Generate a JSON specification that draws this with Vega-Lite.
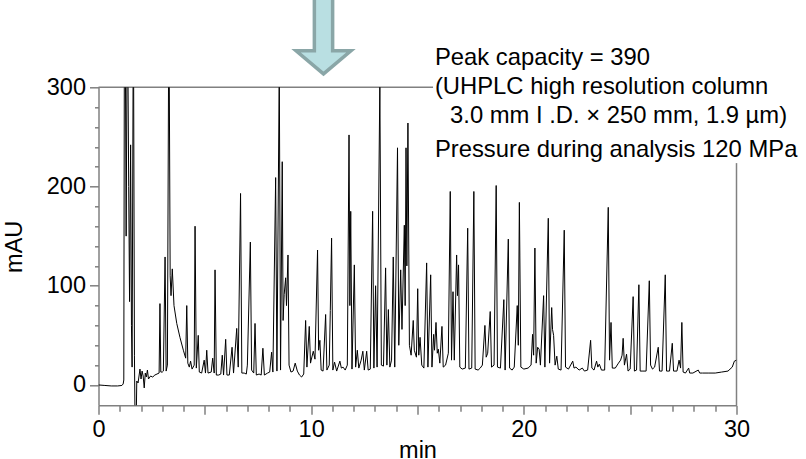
{
"$schema": "https://vega.github.io/schema/vega-lite/v6.json",
"width": 638, "height": 318,
"autosize": {"type": "none"},
"padding": {"left": 98.5, "top": 87.3, "right": 69.5, "bottom": 53.7},
"config": {"view": {"stroke": null}, "font": "Liberation Sans"},
"datasets": {
"trace": [
{"t":0,"v":0},{"t":0.3,"v":-0.5},{"t":0.6,"v":-1},{"t":0.9,"v":-1},{"t":1.1,"v":-0.5},{"t":1.16,"v":1},{"t":1.19,"v":5},{"t":1.22,"v":400},{"t":1.26,"v":350},{"t":1.3,"v":150},{"t":1.36,"v":400},{"t":1.42,"v":200},{"t":1.46,"v":84},{"t":1.51,"v":242},{"t":1.55,"v":60},{"t":1.58,"v":18},{"t":1.64,"v":400},{"t":1.69,"v":30},{"t":1.72,"v":-40},{"t":1.77,"v":-40},{"t":1.8,"v":4},{"t":1.86,"v":2},{"t":1.95,"v":16},{"t":2.0,"v":6},{"t":2.05,"v":14},{"t":2.1,"v":9},{"t":2.15,"v":-3},{"t":2.2,"v":12},{"t":2.25,"v":8},{"t":2.3,"v":15},{"t":2.35,"v":6},{"t":2.45,"v":9},{"t":2.55,"v":8},{"t":2.65,"v":10},{"t":2.75,"v":11},{"t":2.85,"v":12},{"t":2.89,"v":82},{"t":2.93,"v":13},{"t":3.0,"v":13},{"t":3.05,"v":14},{"t":3.13,"v":129},{"t":3.18,"v":14},{"t":3.24,"v":20},{"t":3.31,"v":400},{"t":3.37,"v":110},{"t":3.41,"v":90},{"t":3.47,"v":117},{"t":3.55,"v":80},{"t":3.68,"v":62},{"t":3.83,"v":48},{"t":3.99,"v":35},{"t":4.1,"v":27},{"t":4.15,"v":80},{"t":4.2,"v":22},{"t":4.27,"v":18},{"t":4.33,"v":24},{"t":4.4,"v":16},{"t":4.5,"v":20},{"t":4.54,"v":160},{"t":4.6,"v":17},{"t":4.69,"v":50},{"t":4.74,"v":13},{"t":4.85,"v":12},{"t":4.97,"v":25},{"t":5.03,"v":12},{"t":5.09,"v":35},{"t":5.15,"v":12},{"t":5.3,"v":13},{"t":5.37,"v":27},{"t":5.44,"v":12},{"t":5.48,"v":116},{"t":5.54,"v":10},{"t":5.65,"v":10},{"t":5.75,"v":11},{"t":5.82,"v":30},{"t":5.88,"v":10},{"t":5.98,"v":46},{"t":6.04,"v":10},{"t":6.15,"v":10},{"t":6.28,"v":38},{"t":6.35,"v":12},{"t":6.5,"v":57},{"t":6.57,"v":18},{"t":6.68,"v":193},{"t":6.74,"v":12},{"t":6.85,"v":12},{"t":6.95,"v":11},{"t":7.0,"v":20},{"t":7.14,"v":144},{"t":7.2,"v":15},{"t":7.3,"v":12},{"t":7.36,"v":62},{"t":7.42,"v":10},{"t":7.55,"v":11},{"t":7.65,"v":10},{"t":7.73,"v":37},{"t":7.8,"v":10},{"t":7.95,"v":12},{"t":8.05,"v":13},{"t":8.14,"v":33},{"t":8.2,"v":13},{"t":8.33,"v":209},{"t":8.39,"v":14},{"t":8.5,"v":320},{"t":8.56,"v":15},{"t":8.64,"v":225},{"t":8.68,"v":65},{"t":8.73,"v":91},{"t":8.8,"v":108},{"t":8.84,"v":80},{"t":8.91,"v":131},{"t":8.96,"v":20},{"t":9.05,"v":13},{"t":9.15,"v":14},{"t":9.25,"v":22},{"t":9.35,"v":14},{"t":9.45,"v":10},{"t":9.55,"v":8},{"t":9.65,"v":11},{"t":9.74,"v":65},{"t":9.8,"v":18},{"t":9.91,"v":59},{"t":9.97,"v":22},{"t":10.0,"v":25},{"t":10.1,"v":34},{"t":10.18,"v":26},{"t":10.3,"v":136},{"t":10.35,"v":35},{"t":10.41,"v":45},{"t":10.47,"v":15},{"t":10.56,"v":14},{"t":10.68,"v":71},{"t":10.74,"v":15},{"t":10.85,"v":20},{"t":10.9,"v":75},{"t":10.96,"v":148},{"t":11.02,"v":15},{"t":11.1,"v":23},{"t":11.2,"v":14},{"t":11.35,"v":24},{"t":11.42,"v":17},{"t":11.5,"v":18},{"t":11.6,"v":15},{"t":11.7,"v":20},{"t":11.78,"v":252},{"t":11.82,"v":80},{"t":11.86,"v":175},{"t":11.92,"v":16},{"t":12.03,"v":121},{"t":12.09,"v":18},{"t":12.17,"v":35},{"t":12.24,"v":17},{"t":12.35,"v":25},{"t":12.43,"v":34},{"t":12.5,"v":15},{"t":12.61,"v":34},{"t":12.68,"v":15},{"t":12.78,"v":16},{"t":12.89,"v":175},{"t":12.95,"v":17},{"t":13.03,"v":100},{"t":13.1,"v":18},{"t":13.23,"v":305},{"t":13.3,"v":20},{"t":13.4,"v":19},{"t":13.5,"v":118},{"t":13.56,"v":20},{"t":13.63,"v":76},{"t":13.7,"v":18},{"t":13.78,"v":25},{"t":13.86,"v":129},{"t":13.93,"v":18},{"t":14.06,"v":239},{"t":14.12,"v":40},{"t":14.21,"v":116},{"t":14.27,"v":56},{"t":14.38,"v":161},{"t":14.42,"v":80},{"t":14.46,"v":239},{"t":14.5,"v":120},{"t":14.55,"v":264},{"t":14.62,"v":40},{"t":14.7,"v":30},{"t":14.8,"v":65},{"t":14.85,"v":35},{"t":14.95,"v":28},{"t":15.01,"v":97},{"t":15.06,"v":30},{"t":15.12,"v":48},{"t":15.2,"v":20},{"t":15.3,"v":17},{"t":15.43,"v":123},{"t":15.49,"v":18},{"t":15.62,"v":111},{"t":15.68,"v":18},{"t":15.76,"v":51},{"t":15.8,"v":35},{"t":15.87,"v":63},{"t":15.93,"v":32},{"t":15.98,"v":36},{"t":16.05,"v":22},{"t":16.15,"v":59},{"t":16.21,"v":18},{"t":16.32,"v":20},{"t":16.45,"v":32},{"t":16.54,"v":195},{"t":16.6,"v":25},{"t":16.67,"v":94},{"t":16.73,"v":25},{"t":16.84,"v":131},{"t":16.88,"v":90},{"t":16.93,"v":121},{"t":16.99,"v":18},{"t":17.1,"v":16},{"t":17.25,"v":17},{"t":17.36,"v":158},{"t":17.42,"v":16},{"t":17.55,"v":17},{"t":17.65,"v":195},{"t":17.71,"v":16},{"t":17.85,"v":15},{"t":17.95,"v":17},{"t":18.05,"v":20},{"t":18.17,"v":60},{"t":18.23,"v":28},{"t":18.3,"v":32},{"t":18.42,"v":74},{"t":18.48,"v":18},{"t":18.6,"v":20},{"t":18.7,"v":201},{"t":18.76,"v":18},{"t":18.9,"v":17},{"t":19.06,"v":86},{"t":19.12,"v":15},{"t":19.27,"v":147},{"t":19.33,"v":17},{"t":19.45,"v":15},{"t":19.55,"v":18},{"t":19.69,"v":80},{"t":19.74,"v":40},{"t":19.79,"v":184},{"t":19.86,"v":18},{"t":20.0,"v":16},{"t":20.2,"v":17},{"t":20.34,"v":20},{"t":20.41,"v":51},{"t":20.46,"v":30},{"t":20.52,"v":138},{"t":20.58,"v":22},{"t":20.65,"v":38},{"t":20.72,"v":36},{"t":20.78,"v":20},{"t":20.93,"v":90},{"t":20.99,"v":18},{"t":21.15,"v":168},{"t":21.21,"v":22},{"t":21.31,"v":78},{"t":21.35,"v":56},{"t":21.4,"v":50},{"t":21.47,"v":20},{"t":21.55,"v":29},{"t":21.62,"v":16},{"t":21.75,"v":15},{"t":21.9,"v":156},{"t":21.96,"v":18},{"t":22.1,"v":16},{"t":22.3,"v":24},{"t":22.36,"v":17},{"t":22.45,"v":18},{"t":22.6,"v":15},{"t":22.75,"v":17},{"t":22.85,"v":14},{"t":23.0,"v":15},{"t":23.14,"v":45},{"t":23.2,"v":17},{"t":23.3,"v":15},{"t":23.42,"v":24},{"t":23.48,"v":18},{"t":23.55,"v":21},{"t":23.65,"v":15},{"t":23.8,"v":15},{"t":23.97,"v":179},{"t":24.03,"v":25},{"t":24.1,"v":63},{"t":24.16,"v":17},{"t":24.3,"v":17},{"t":24.45,"v":22},{"t":24.55,"v":25},{"t":24.62,"v":30},{"t":24.67,"v":47},{"t":24.73,"v":20},{"t":24.83,"v":31},{"t":24.9,"v":14},{"t":25.0,"v":16},{"t":25.14,"v":89},{"t":25.2,"v":14},{"t":25.3,"v":15},{"t":25.41,"v":101},{"t":25.47,"v":14},{"t":25.6,"v":14},{"t":25.75,"v":14},{"t":25.9,"v":105},{"t":25.96,"v":20},{"t":26.05,"v":16},{"t":26.15,"v":18},{"t":26.32,"v":38},{"t":26.38,"v":14},{"t":26.5,"v":14},{"t":26.65,"v":111},{"t":26.71,"v":14},{"t":26.85,"v":14},{"t":26.98,"v":42},{"t":27.04,"v":14},{"t":27.2,"v":14},{"t":27.3,"v":25},{"t":27.37,"v":17},{"t":27.43,"v":63},{"t":27.49,"v":13},{"t":27.6,"v":12},{"t":27.75,"v":17},{"t":27.8,"v":12},{"t":27.95,"v":12},{"t":28.2,"v":15},{"t":28.27,"v":12},{"t":28.4,"v":12},{"t":28.7,"v":12},{"t":29.0,"v":12},{"t":29.3,"v":13},{"t":29.6,"v":14},{"t":29.8,"v":18},{"t":29.9,"v":24},{"t":30.0,"v":25}
],
"frame": [
{"t":0,"t2":15.73,"v":300,"v2":300},
{"t":30,"t2":30,"v":-20.5,"v2":223.6}
],
"notes": [
{"t":15.82,"v":322.5,"label":"Peak capacity = 390"},
{"t":15.82,"v":292.9,"label":"(UHPLC high resolution column"},
{"t":16.53,"v":264.3,"label":"3.0 mm I .D. × 250 mm, 1.9 µm)"},
{"t":15.82,"v":230.0,"label":"Pressure during analysis 120 MPa"}
],
"arrow": [
{"t":10.58,"v":354.3}
]
},
"encoding": {
"x": {"field": "t", "type": "quantitative",
  "scale": {"domain": [0, 30], "nice": false, "zero": false},
  "axis": {"title": "min", "values": [0,1,2,3,4,5,6,7,8,9,10,11,12,13,14,15,16,17,18,19,20,21,22,23,24,25,26,27,28,29,30],
    "labelExpr": "datum.value % 10 === 0 ? datum.label : ''",
    "tickSize": {"condition": {"test": "datum.value % 5 === 0", "value": 9}, "value": 6},
    "grid": false, "domainColor": "#808080", "domainWidth": 1.5, "tickColor": "#808080", "tickWidth": 1.5,
    "labelFontSize": 23.5, "labelColor": "#000000", "labelFont": "Liberation Sans", "labelPadding": 3, "labelFlush": false, "labelOverlap": false,
    "titleFontSize": 23.5, "titleFontWeight": "normal", "titleColor": "#000000", "titleFont": "Liberation Sans", "titleY": 52, "titleBaseline": "alphabetic"}},
"y": {"field": "v", "type": "quantitative",
  "scale": {"domain": [-20.5, 300], "nice": false, "zero": false},
  "axis": {"title": "mAU", "values": [0,20,40,60,80,100,120,140,160,180,200,220,240,260,280,300],
    "labelExpr": "datum.value % 100 === 0 ? datum.label : ''",
    "tickSize": {"condition": {"test": "datum.value % 100 === 0", "value": 9}, "value": 4},
    "grid": false, "domainColor": "#808080", "domainWidth": 1.5, "tickColor": "#808080", "tickWidth": 1.5,
    "labelFontSize": 23.5, "labelColor": "#000000", "labelFont": "Liberation Sans", "labelPadding": 4, "labelFlush": false, "labelOverlap": false,
    "titleFontSize": 23.5, "titleFontWeight": "normal", "titleColor": "#000000", "titleFont": "Liberation Sans", "titleX": -77, "titleY": 159, "titleAngle": 270, "titleBaseline": "alphabetic", "titleAlign": "center"}}
},
"layer": [
{"data": {"name": "frame"}, "mark": {"type": "rule", "color": "#808080", "strokeWidth": 1.5},
 "encoding": {"x2": {"field": "t2"}, "y2": {"field": "v2"}}},
{"data": {"name": "trace"}, "mark": {"type": "line", "color": "#000000", "strokeWidth": 1, "clip": true, "interpolate": "linear"}},
{"data": {"name": "notes"}, "mark": {"type": "text", "align": "left", "baseline": "alphabetic", "fontSize": 23.8, "font": "Liberation Sans", "color": "#000000"},
 "encoding": {"text": {"field": "label"}}},
{"data": {"name": "arrow"}, "mark": {"type": "point", "filled": true, "shape": "M-0.21,-1L0.21,-1L0.21,0.4L0.63,0.4L0,0.93L-0.63,0.4L-0.21,0.4Z", "size": 7569, "fill": "#b9dfe2", "stroke": "#8aa6a7", "strokeWidth": 3.5, "opacity": 1, "fillOpacity": 1, "strokeOpacity": 1}}
]
}
